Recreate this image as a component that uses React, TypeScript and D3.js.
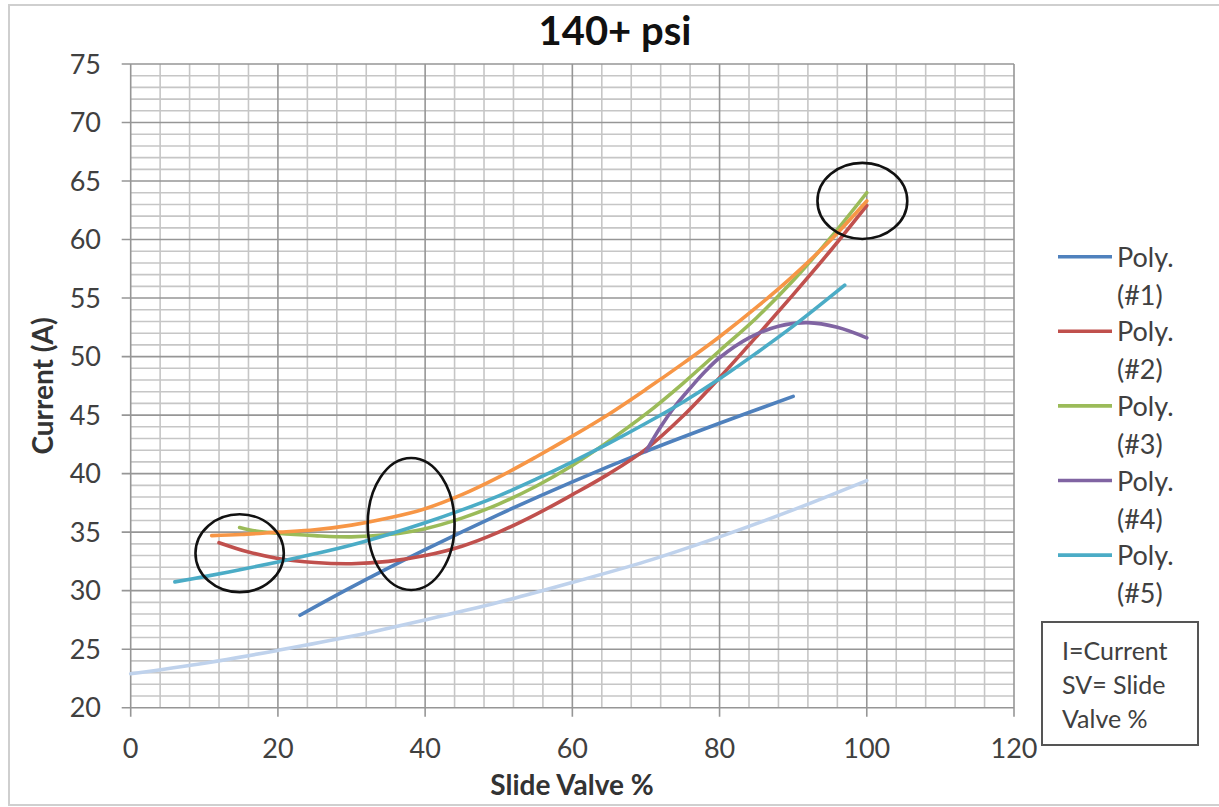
import React from "react";
import * as d3 from "d3";

// Axis ticks
const xTicks = [0, 20, 40, 60, 80, 100, 120];
const yTicks = [20, 25, 30, 35, 40, 45, 50, 55, 60, 65, 70, 75];

// Trendline series: [slide valve %, current A]
const poly1: [number, number][] = [
  [23, 27.9], [30, 30.3], [40, 33.5], [50, 36.5], [60, 39.3], [70, 41.9],
  [80, 44.3], [90, 46.6],
];
const poly2: [number, number][] = [
  [12, 34.1], [16, 33.3], [20, 32.75], [25, 32.4], [30, 32.3], [35, 32.5],
  [40, 33.0], [45, 33.8], [50, 35.0], [55, 36.5], [60, 38.2], [65, 40.0],
  [70, 42.1], [75, 44.9], [80, 48.2], [85, 51.7], [90, 55.3], [95, 59.0], [100, 62.9],
];
const poly3: [number, number][] = [
  [14.8, 35.4], [17, 35.1], [20, 34.9], [25, 34.7], [30, 34.6], [35, 34.8],
  [40, 35.3], [45, 36.2], [50, 37.4], [55, 38.9], [60, 40.7], [65, 42.8],
  [70, 45.1], [75, 47.7], [80, 50.5], [85, 53.3], [90, 56.5], [95, 60.1], [100, 64.0],
];
const poly4: [number, number][] = [
  [70, 41.9], [72, 44.0], [74, 45.8], [76, 47.3], [78, 48.7], [80, 49.9],
  [84, 51.6], [88, 52.6], [92, 52.9], [96, 52.5], [100, 51.6],
];
const poly5: [number, number][] = [
  [6, 30.75], [10, 31.2], [15, 31.8], [20, 32.45], [25, 33.15], [30, 33.9],
  [35, 34.8], [40, 35.8], [45, 36.9], [50, 38.1], [55, 39.5], [60, 41.0],
  [65, 42.6], [70, 44.3], [75, 46.1], [80, 48.1], [85, 50.3], [90, 52.6], [97, 56.1],
];
const seriesOrange: [number, number][] = [
  [11, 34.7], [15, 34.8], [20, 35.0], [25, 35.2], [30, 35.6], [35, 36.2],
  [40, 37.0], [45, 38.2], [50, 39.7], [55, 41.4], [60, 43.2], [65, 45.1],
  [70, 47.2], [75, 49.4], [80, 51.7], [85, 54.2], [90, 56.9], [95, 59.9], [100, 63.3],
];
const seriesPale: [number, number][] = [
  [0, 22.9], [10, 23.8], [20, 24.9], [30, 26.1], [40, 27.5], [50, 29.0],
  [60, 30.7], [70, 32.5], [80, 34.6], [90, 36.9], [100, 39.4],
];

const legendNames = ["(#1)", "(#2)", "(#3)", "(#4)", "(#5)"];
const legendColors = ["#4f81bd", "#c0504d", "#9bbb59", "#8064a2", "#4bacc6"];

// Highlight ellipses: centre and radii in data units
const highlightCx = [14.8, 38.1, 99.4];
const highlightCy = [33.2, 35.7, 63.3];
const highlightRx = [6.0, 5.9, 6.1];
const highlightRy = [3.33, 5.64, 3.25];

const noteLines = ["I=Current", "SV= Slide", "Valve %"];

const W = 1219;
const H = 807;
const FONT = "Lato, 'Open Sans', sans-serif";

export default function App() {
  const x = d3.scaleLinear().domain([0, 120]).range([130.7, 1014]);
  const y = d3.scaleLinear().domain([20, 75]).range([707.7, 64]);

  const line = d3
    .line<[number, number]>()
    .x((d) => x(d[0]))
    .y((d) => y(d[1]))
    .curve(d3.curveCatmullRom.alpha(0.5));

  const xGrid = d3.range(0, 121, 4);
  const yGrid = d3.range(20, 76, 1);

  const drawn: { data: [number, number][]; color: string }[] = [
    { data: seriesPale, color: "#bfd2ec" },
    { data: poly1, color: legendColors[0] },
    { data: poly2, color: legendColors[1] },
    { data: poly3, color: legendColors[2] },
    { data: poly4, color: legendColors[3] },
    { data: poly5, color: legendColors[4] },
    { data: seriesOrange, color: "#f79646" },
  ];

  const legendX = 1058;
  const legendY0 = 256.7;
  const legendStep = 74.6;

  return (
    <svg
      width={W}
      height={H}
      style={{ position: "absolute", left: 0, top: 0, background: "#fff" }}
      fontFamily={FONT}
    >
      <rect x={0} y={0} width={W} height={H} fill="#fff" />
      <rect x={9} y={5} width={W + 20} height={800} fill="none" stroke="#cfcfcf" strokeWidth={2} />

      {/* minor grid */}
      <g>
        {yGrid.filter((v) => v % 5 !== 0).map((v) => (
          <line key={"hy" + v} x1={x(0)} x2={x(120)} y1={y(v)} y2={y(v)} stroke="#c6c6c6" strokeWidth={1.6} />
        ))}
        {xGrid.filter((v) => v % 20 !== 0).map((v) => (
          <line key={"vx" + v} x1={x(v)} x2={x(v)} y1={y(20)} y2={y(75)} stroke="#c6c6c6" strokeWidth={1.6} />
        ))}
      </g>
      {/* major grid with tick extensions */}
      <g>
        {yTicks.map((v) => (
          <line key={"HY" + v} x1={x(0) - 9} x2={x(120)} y1={y(v)} y2={y(v)} stroke="#969696" strokeWidth={1.6} />
        ))}
        {xTicks.map((v) => (
          <line key={"VX" + v} x1={x(v)} x2={x(v)} y1={y(20) + 9} y2={y(75)} stroke="#969696" strokeWidth={1.6} />
        ))}
      </g>

      {/* axis tick labels */}
      <g fontSize={27} fill="#404040">
        {yTicks.map((v) => (
          <text key={"ly" + v} x={101} y={y(v) + 9.5} textAnchor="end">
            {v}
          </text>
        ))}
        {xTicks.map((v) => (
          <text key={"lx" + v} x={x(v)} y={758} textAnchor="middle">
            {v}
          </text>
        ))}
      </g>

      {/* series */}
      <g fill="none" strokeWidth={3.6} strokeLinecap="round" strokeLinejoin="round">
        {drawn.map((s, i) => (
          <path key={i} d={line(s.data) || ""} stroke={s.color} />
        ))}
      </g>

      {/* highlight ellipses */}
      <g fill="none" stroke="#111" strokeWidth={2.6}>
        {highlightCx.map((cx, i) => (
          <ellipse
            key={i}
            cx={x(cx)}
            cy={y(highlightCy[i])}
            rx={x(highlightRx[i]) - x(0)}
            ry={y(20) - y(20 + highlightRy[i])}
          />
        ))}
      </g>

      {/* title and axis titles */}
      <text x={615} y={45} textAnchor="middle" fontSize={40} fontWeight="bold" fill="#111">
        140+ psi
      </text>
      <text x={572} y={795} textAnchor="middle" fontSize={28} fontWeight="bold" fill="#333">
        Slide Valve %
      </text>
      <text
        transform={`translate(53,386) rotate(-90)`}
        textAnchor="middle"
        fontSize={28}
        fontWeight="bold"
        fill="#333"
      >
        Current (A)
      </text>

      {/* legend */}
      <g fontSize={27} fill="#404040">
        {legendNames.map((n, i) => {
          const ly = legendY0 + i * legendStep;
          return (
            <g key={n}>
              <line x1={legendX} x2={legendX + 54} y1={ly} y2={ly} stroke={legendColors[i]} strokeWidth={3.6} />
              <text x={legendX + 59} y={ly + 10}>Poly.</text>
              <text x={legendX + 59} y={ly + 48}>{n}</text>
            </g>
          );
        })}
      </g>

      {/* note box */}
      <rect x={1042} y={622} width={156} height={123} fill="#fff" stroke="#555" strokeWidth={2} />
      <g fontSize={25} fill="#404040">
        {noteLines.map((t, i) => (
          <text key={t} x={1062} y={660 + i * 34}>
            {t}
          </text>
        ))}
      </g>
    </svg>
  );
}
